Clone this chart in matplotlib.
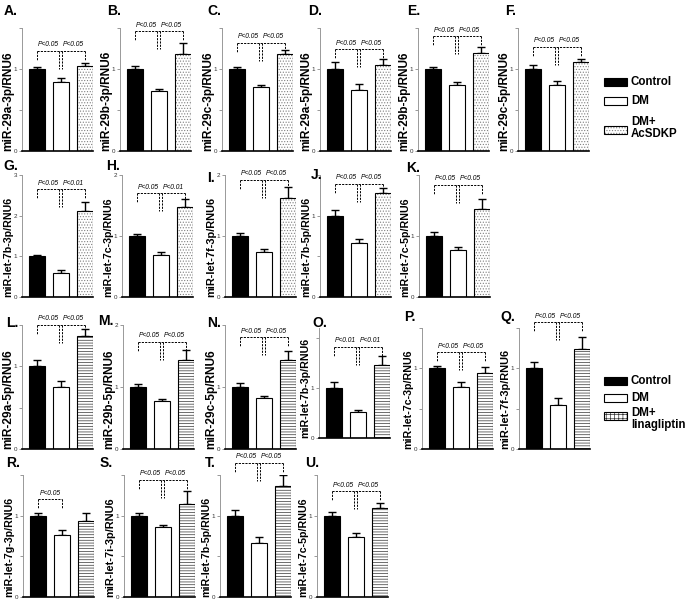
import matplotlib
matplotlib.use("Agg")
import matplotlib.pyplot as plt
from matplotlib.patches import Rectangle

plt.rcParams['font.family'] = ['Liberation Sans', 'DejaVu Sans']
plt.rcParams['hatch.linewidth'] = 0.5

W, H = 685, 609

groups = ["Control", "DM", "DM+"]
treat_top = "AcSDKP"
treat_bot = "linagliptin"

letters = ["A.", "B.", "C.", "D.", "E.", "F.", "G.", "H.", "I.", "J.", "K.",
           "L.", "M.", "N.", "O.", "P.", "Q.", "R.", "S.", "T.", "U."]
ylabels = ["miR-29a-3p/RNU6", "miR-29b-3p/RNU6", "miR-29c-3p/RNU6",
           "miR-29a-5p/RNU6", "miR-29b-5p/RNU6", "miR-29c-5p/RNU6",
           "miR-let-7b-3p/RNU6", "miR-let-7c-3p/RNU6", "miR-let-7f-3p/RNU6",
           "miR-let-7b-5p/RNU6", "miR-let-7c-5p/RNU6",
           "miR-29a-5p/RNU6", "miR-29b-5p/RNU6", "miR-29c-5p/RNU6",
           "miR-let-7b-3p/RNU6", "miR-let-7c-3p/RNU6", "miR-let-7f-3p/RNU6",
           "miR-let-7g-3p/RNU6", "miR-let-7i-3p/RNU6", "miR-let-7b-5p/RNU6",
           "miR-let-7c-5p/RNU6"]
means = [[1.00, 0.84, 1.04], [1.00, 0.73, 1.18], [1.00, 0.78, 1.18],
         [1.00, 0.75, 1.05], [1.00, 0.80, 1.20], [1.00, 0.81, 1.09],
         [1.00, 0.60, 2.12], [1.00, 0.69, 1.48], [1.00, 0.74, 1.63],
         [1.00, 0.66, 1.28], [1.00, 0.77, 1.45],
         [1.00, 0.75, 1.37], [1.00, 0.77, 1.44], [1.00, 0.82, 1.43],
         [1.00, 0.52, 1.47], [1.00, 0.77, 0.94], [1.00, 0.54, 1.24],
         [1.00, 0.76, 0.93], [1.00, 0.86, 1.14], [1.00, 0.67, 1.36],
         [1.00, 0.74, 1.10]]
errs = [[0.03, 0.05, 0.03], [0.04, 0.03, 0.14], [0.03, 0.03, 0.05],
        [0.08, 0.07, 0.07], [0.03, 0.04, 0.07], [0.05, 0.04, 0.03],
        [0.03, 0.06, 0.22], [0.03, 0.04, 0.13], [0.05, 0.04, 0.17],
        [0.07, 0.05, 0.06], [0.06, 0.05, 0.15],
        [0.08, 0.07, 0.08], [0.05, 0.04, 0.15], [0.07, 0.04, 0.15],
        [0.13, 0.05, 0.18], [0.03, 0.06, 0.08], [0.08, 0.09, 0.15],
        [0.03, 0.06, 0.10], [0.03, 0.02, 0.16], [0.07, 0.07, 0.14],
        [0.05, 0.05, 0.05]]
ymax = [1.5, 1.5, 1.5, 1.5, 1.5, 1.5,
        3.0, 2.0, 2.0, 1.5, 2.0,
        1.5, 2.0, 2.0, 2.2, 1.5, 1.5,
        1.5, 1.5, 1.5, 1.5]
bracket_y = [1.22, 1.46, 1.32, 1.24, 1.40, 1.27,
             2.65, 1.70, 1.92, 1.39, 1.84,
             1.50, 1.73, 1.80, 1.82, 1.20, 1.57,
             1.20, 1.44, 1.65, 1.30]
p_left = ["P<0.05"] * 14 + ["P<0.01"] + ["P<0.05"] * 6
p_right = (["P<0.05"] * 6 + ["P<0.01", "P<0.01"] + ["P<0.05"] * 6 + ["P<0.01"]
           + ["P<0.05", "P<0.05", None, "P<0.05", "P<0.05", "P<0.05"])

# layout (pixels): axis left x, zero line y, top y
ax_left = [22, 120, 222, 320, 418, 518,
           22, 122, 225, 320, 419,
           22, 123, 225, 319, 422, 519,
           23, 124, 220, 317]
ax_zero = [151] * 6 + [297] * 5 + [449, 449, 449, 438, 449, 449] + [597] * 4
ax_top = [28] * 6 + [175] * 5 + [325, 325, 325, 328, 328, 328] + [475] * 4
let_pos = [(4, 11), (107, 11), (207, 11), (308, 11), (407, 11), (505, 11),
           (3, 166), (106, 166), (207, 178), (311, 175), (406, 168),
           (6, 323), (98, 321), (207, 323), (312, 323), (404, 317), (500, 317),
           (6, 463), (100, 463), (205, 463), (305, 463)]

fig = plt.figure(figsize=(W / 100, H / 100), dpi=100)
fig.patch.set_facecolor("white")
renderer = fig.canvas.get_renderer()

BAR_W = 0.66
AX_W = 71
LABEL_LEN = 100  # px

for i in range(21):
    lx, zy, ty = ax_left[i], ax_zero[i], ax_top[i]
    ax = fig.add_axes([lx / W, 1 - zy / H, AX_W / W, (zy - ty) / H])
    ym = ymax[i]
    ax.set_xlim(-0.625, 2.35)
    ax.set_ylim(0, ym)
    top_group = i < 11
    hatch = "......" if top_group else "------"
    hcol = "#808080" if top_group else "#333333"
    x = [0, 1, 2]
    ax.bar(0, means[i][0], BAR_W, color="black", edgecolor="black", lw=0.8, zorder=2)
    ax.bar(1, means[i][1], BAR_W, color="white", edgecolor="black", lw=0.8, zorder=2)
    ax.bar(2, means[i][2], BAR_W, color="white", edgecolor=hcol, hatch=hatch, lw=0, zorder=2)
    ax.bar(2, means[i][2], BAR_W, color="none", edgecolor="black", lw=0.8, zorder=3)
    ax.errorbar(x, means[i], yerr=[[0, 0, 0], errs[i]], fmt="none", ecolor="black",
                elinewidth=1.0, capsize=3.2, capthick=1.0, zorder=1)
    step = 0.5 if ym <= 1.5 else 1.0
    ticks = []
    t = 0.0
    while t <= ym + 1e-6:
        ticks.append(round(t, 2))
        t += step
    ax.set_yticks(ticks)
    labs = []
    for tv in ticks:
        if abs(tv - round(tv)) < 1e-6 and (tv < 1.5 or i in (6, 7, 8, 12)):
            labs.append(str(int(round(tv))))
        else:
            labs.append("")
    ax.set_yticklabels(labs, fontsize=4.5, color="#333333")
    ax.tick_params(axis="y", length=2.5, width=0.6, color="#888888", pad=1.0)
    ax.set_xticks([])
    for s in ("top", "right"):
        ax.spines[s].set_visible(False)
    ax.spines["left"].set_color("#999999")
    ax.spines["left"].set_linewidth(0.7)
    ax.spines["bottom"].set_color("black")
    ax.spines["bottom"].set_linewidth(1.2)
    yl = ax.text(-13.5 / AX_W, 0.0, ylabels[i], transform=ax.transAxes, rotation=90,
                 ha="center", va="bottom", fontsize=8, fontweight="bold")
    bb = yl.get_window_extent(renderer)
    yl.set_fontsize(8 * LABEL_LEN / bb.height)
    px = ym / (zy - ty)
    by = bracket_y[i]
    leg = 9 * px
    mid = 18 * px
    dash = (0, (2.2, 1.2))
    kw = dict(color="black", lw=0.7, linestyle=dash, clip_on=False, zorder=4)
    tkw = dict(ha="center", va="bottom", fontsize=4.8, style="italic", clip_on=False)
    if p_right[i] is None:
        ax.plot([0, 1], [by, by], **kw)
        ax.plot([0, 0], [by, by - leg], **kw)
        ax.plot([1, 1], [by, by - leg], **kw)
        ax.text(0.5, by + 2.5 * px, p_left[i], **tkw)
    else:
        ax.plot([0, 2], [by, by], **kw)
        ax.plot([0, 0], [by, by - leg], **kw)
        ax.plot([2, 2], [by, by - leg], **kw)
        ax.plot([0.94, 0.94], [by, by - mid], **kw)
        ax.plot([1.06, 1.06], [by, by - mid], **kw)
        ax.text(0.47, by + 2.5 * px, p_left[i], **tkw)
        ax.text(1.53, by + 2.5 * px, p_right[i], **tkw)
    fig.text(let_pos[i][0] / W, 1 - let_pos[i][1] / H, letters[i], fontsize=10,
             fontweight="bold", ha="left", va="center")

ov = fig.add_axes([0, 0, 1, 1], zorder=10)
ov.set_xlim(0, W)
ov.set_ylim(H, 0)
ov.axis("off")
ov.patch.set_alpha(0)


def legend(y_rows, text3_y, treat, hatch, hcol):
    names = [groups[0], groups[1]]
    fills = ["black", "white"]
    for k in range(2):
        yc = y_rows[k]
        ov.add_patch(Rectangle((604, yc - 4), 23, 8, facecolor=fills[k],
                               edgecolor="black", lw=0.8))
        ov.text(631, yc, names[k], fontsize=8.3, fontweight="bold",
                ha="left", va="center")
    yc = y_rows[2]
    ov.add_patch(Rectangle((604, yc - 4), 23, 8, facecolor="white",
                           edgecolor=hcol, hatch=hatch, lw=0))
    ov.add_patch(Rectangle((604, yc - 4), 23, 8, facecolor="none",
                           edgecolor="black", lw=0.8))
    ov.text(631, text3_y, groups[2] + "\n" + treat, fontsize=8.3, fontweight="bold",
            ha="left", va="center", linespacing=1.05)


legend([82, 101, 130], 128, treat_top, "......", "#808080")
legend([381, 398, 416], 419, treat_bot, "++++", "#333333")

fig.savefig("out.png", dpi=100, facecolor="white")
